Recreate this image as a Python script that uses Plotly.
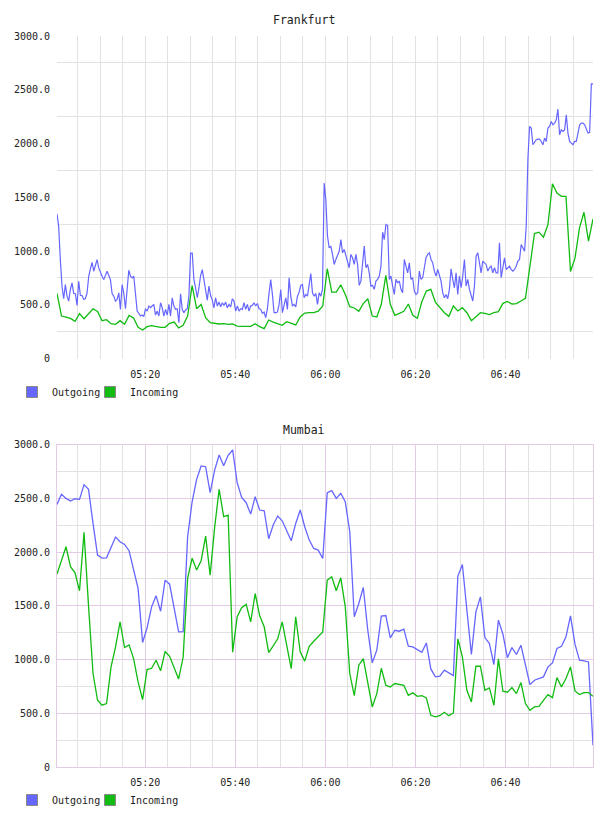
import plotly.graph_objects as go
import pandas as pd

# ---------------- data ----------------
series_names = ["Outgoing", "Incoming"]
chart_titles = ["Frankfurt", "Mumbai"]

x_tick_labels = ["05:20", "05:40", "06:00", "06:20", "06:40"]
x_tick_times = ["05:20:00", "05:40:00", "06:00:00", "06:20:00", "06:40:00"]
y_tick_vals = [0, 500, 1000, 1500, 2000, 2500, 3000]
y_tick_labels = ["0", "500.0", "1000.0", "1500.0", "2000.0", "2500.0", "3000.0"]

start_time = "2024-01-01 05:00:25"
n_minutes = 120

# Frankfurt outgoing (dense sampling)
fra_out = [
    1345, 1228, 920, 673, 556, 688, 580, 534, 642, 704,
    605, 602, 494, 719, 586, 586, 549, 558, 611, 765,
    833, 895, 812, 873, 920, 843, 796, 765, 734, 772,
    812, 772, 734, 605, 580, 534, 549, 611, 457, 688,
    605, 463, 642, 821, 765, 750, 765, 611, 441, 420,
    395, 404, 389, 463, 441, 488, 472, 488, 503, 404,
    441, 395, 519, 472, 395, 457, 404, 503, 395, 565,
    488, 457, 463, 333, 602, 457, 426, 451, 463, 580,
    981, 981, 734, 657, 565, 657, 772, 827, 734, 657,
    543, 673, 586, 543, 472, 565, 488, 525, 481, 519,
    494, 525, 472, 503, 481, 556, 534, 441, 488, 441,
    463, 457, 519, 457, 503, 441, 488, 494, 519, 488,
    512, 463, 457, 420, 432, 380, 463, 611, 734, 596,
    426, 426, 432, 503, 642, 426, 488, 565, 457, 750,
    580, 488, 503, 481, 580, 617, 679, 688, 565, 596,
    580, 673, 790, 611, 580, 605, 503, 611, 580, 642,
    1633, 1478, 1138, 1029, 1045, 968, 875, 921, 952, 998,
    1107, 983, 1014, 952, 890, 844, 968, 937, 875, 968,
    875, 680, 720, 921, 1045, 844, 875, 797, 674, 680,
    643, 720, 736, 767, 859, 1175, 1107, 1246, 1237, 736,
    767, 674, 596, 736, 705, 720, 643, 612, 921, 859,
    797, 890, 736, 751, 627, 596, 612, 813, 736, 751,
    859, 937, 968, 983, 921, 890, 813, 767, 828, 782,
    720, 612, 565, 596, 556, 643, 834, 736, 658, 797,
    596, 767, 658, 767, 921, 674, 736, 643, 581, 535,
    674, 952, 983, 890, 797, 906, 890, 875, 813, 844,
    859, 797, 844, 797, 797, 1076, 751, 828, 937, 828,
    844, 859, 828, 813, 828, 859, 906, 921, 1060, 1029,
    998, 1230, 1849, 2158, 2143, 1988, 2019, 2035, 2041, 2041,
    2019, 1988, 2050, 2019, 2143, 2158, 2205, 2174, 2189, 2220,
    2319, 2081, 2127, 2112, 2127, 2267, 2097, 2019, 2004, 1988,
    2019, 2019, 2097, 2174, 2189, 2189, 2174, 2127, 2097, 2103,
    2554, 2554,
]

# Frankfurt incoming (1-minute samples)
fra_in = [
    605, 395, 386, 373, 346, 417, 370, 417, 463, 438,
    352, 361, 324, 318, 352, 318, 401, 377, 290, 265,
    296, 306, 296, 290, 290, 327, 339, 284, 309, 395,
    679, 463, 503, 380, 333, 324, 321, 324, 318, 321,
    302, 299, 299, 299, 324, 296, 278, 358, 339, 324,
    309, 343, 327, 312, 386, 423, 426, 426, 441, 488,
    835, 618, 618, 686, 596, 482, 470, 439, 510, 556,
    395, 386, 504, 773, 504, 402, 420, 439, 507, 402,
    374, 528, 627, 643, 525, 473, 426, 392, 488, 442,
    473, 426, 352, 389, 426, 420, 408, 426, 436, 513,
    531, 507, 510, 535, 559, 859, 1162, 1175, 1128, 1246,
    1626, 1540, 1509, 1509, 810, 934, 1215, 1360, 1091, 1298,
]

# Mumbai outgoing (1-minute samples)
mum_out = [
    2444, 2538, 2500, 2475, 2497, 2491, 2628, 2584, 2267, 1972,
    1944, 1947, 2044, 2140, 2097, 2072, 2013, 1833, 1662, 1159,
    1295, 1491, 1593, 1450, 1739, 1702, 1491, 1258, 1261, 2143,
    2469, 2677, 2802, 2795, 2553, 2764, 2904, 2805, 2901, 2951,
    2646, 2510, 2460, 2354, 2516, 2392, 2385, 2125, 2252, 2336,
    2292, 2199, 2106, 2267, 2392, 2236, 2112, 2034, 2019, 1941,
    2553, 2572, 2500, 2547, 2469, 2190, 1398, 1522, 1671, 1273,
    969, 1087, 1404, 1410, 1202, 1273, 1264, 1283, 1124, 1118,
    1093, 1068, 1155, 913, 839, 845, 901, 876, 851, 1777,
    1885, 1460, 1047, 1444, 1584, 1205, 1149, 954, 1367, 1236,
    1016, 1112, 1047, 1134, 954, 767, 808, 823, 839, 932,
    969, 1103, 1124, 1211, 1407, 1143, 994, 988, 978, 202,
]

# Mumbai incoming (1-minute samples)
mum_in = [
    1795, 1932, 2050, 1864, 1808, 1640, 2184, 1500, 870, 621,
    575, 590, 932, 1118, 1351, 1112, 1137, 1009, 792, 627,
    907, 919, 994, 895, 1075, 1031, 926, 820, 1019, 1755,
    1944, 1833, 1920, 2149, 1786, 2230, 2584, 2330, 2345, 1068,
    1398, 1482, 1513, 1351, 1615, 1407, 1305, 1065, 1127, 1193,
    1351, 1149, 916, 1398, 1072, 985, 1124, 1171, 1211, 1258,
    1739, 1770, 1640, 1761, 1491, 870, 665, 947, 1009, 777,
    559, 683, 919, 761, 745, 777, 770, 761, 668, 690,
    658, 665, 643, 481, 466, 478, 509, 478, 503, 1193,
    1025, 714, 606, 938, 938, 714, 736, 575, 1006, 705,
    696, 739, 683, 786, 590, 528, 559, 565, 621, 674,
    646, 832, 745, 823, 932, 708, 674, 693, 693, 658,
]

# ---------------- styling ----------------
OUT_COLOR = "#6666ff"
IN_COLOR = "#11bb11"
GRID_GREY = "#e2e2e2"
GRID_LILAC = "#e3cbe6"
TXT = "#222222"
MONO = "DejaVu Sans Mono"

W, H = 608, 816
M_L, M_R, M_T, M_B = 57, 15, 36, 49
PLOT_W = W - M_L - M_R
PLOT_H = H - M_T - M_B

t0 = pd.Timestamp(start_time)
t_min = [t0 + pd.Timedelta(minutes=i) for i in range(n_minutes)]
span = pd.Timedelta(minutes=n_minutes - 1)
n_dense = len(fra_out)
t_dense = [t0 + span * (i / (n_dense - 1)) for i in range(n_dense)]
x_range = [t0, t0 + span]
day = t0.strftime("%Y-%m-%d")
tickvals_x = [f"{day} {s}" for s in x_tick_times]


def px_to_paper_y(py):
    return (H - M_B - py) / PLOT_H


def px_to_paper_x(px):
    return (px - M_L) / PLOT_W


fra_bottom = px_to_paper_y(358.5)
mum_top = px_to_paper_y(444.7)

fig = go.Figure()

# data traces
fig.add_trace(go.Scatter(x=t_dense, y=fra_out, mode="lines", line=dict(color=OUT_COLOR, width=1.2),
                         xaxis="x", yaxis="y", showlegend=False, hoverinfo="skip"))
fig.add_trace(go.Scatter(x=t_min, y=fra_in, mode="lines", line=dict(color=IN_COLOR, width=1.3),
                         xaxis="x", yaxis="y", showlegend=False, hoverinfo="skip"))
fig.add_trace(go.Scatter(x=t_min, y=mum_out, mode="lines", line=dict(color=OUT_COLOR, width=1.3),
                         xaxis="x2", yaxis="y2", showlegend=False, hoverinfo="skip"))
fig.add_trace(go.Scatter(x=t_min, y=mum_in, mode="lines", line=dict(color=IN_COLOR, width=1.3),
                         xaxis="x2", yaxis="y2", showlegend=False, hoverinfo="skip"))

# legend entries (square swatches) + an invisible spacer entry
for leg, xa, ya in [("legend", "x", "y"), ("legend2", "x2", "y2")]:
    for name, col in zip(series_names, [OUT_COLOR, IN_COLOR]):
        fig.add_trace(go.Scatter(x=[None], y=[None], mode="markers", name=name, legend=leg,
                                 xaxis=xa, yaxis=ya,
                                 marker=dict(symbol="square", size=11, color=col,
                                             line=dict(color="#888888", width=1))))
    fig.add_trace(go.Scatter(x=[None], y=[None], mode="markers", name=" ", legend=leg,
                             xaxis=xa, yaxis=ya,
                             marker=dict(symbol="square", size=1, color="rgba(0,0,0,0)",
                                         line=dict(width=0))))

tick_font = dict(family=MONO, size=10, color=TXT)


def xaxis_cfg(domain_anchor, major_grid, show_border):
    return dict(
        type="date", range=x_range, anchor=domain_anchor,
        tickmode="array", tickvals=tickvals_x, ticktext=x_tick_labels,
        ticks="outside", ticklen=6, tickcolor="rgba(0,0,0,0)",
        tickfont=tick_font, showgrid=True, gridcolor=major_grid, gridwidth=1,
        minor=dict(dtick=300000, tick0=f"{day} 05:00:00", showgrid=True,
                   gridcolor=GRID_GREY, gridwidth=1, ticks=""),
        zeroline=False, showline=show_border, mirror=show_border,
        linecolor=GRID_LILAC, linewidth=1, fixedrange=True,
    )


def yaxis_cfg(domain, domain_anchor, major_grid, show_major, show_border):
    return dict(
        domain=domain, anchor=domain_anchor, range=[0, 3000],
        tickmode="array", tickvals=y_tick_vals, ticktext=y_tick_labels,
        ticks="outside", ticklen=4, tickcolor="rgba(0,0,0,0)",
        tickfont=tick_font, showgrid=show_major, gridcolor=major_grid, gridwidth=1,
        minor=dict(tick0=250, dtick=500, showgrid=True, gridcolor=GRID_GREY,
                   gridwidth=1, ticks=""),
        zeroline=False, showline=show_border, mirror=show_border,
        linecolor=GRID_LILAC, linewidth=1, fixedrange=True,
    )


legend_common = dict(orientation="h", xref="paper", yref="paper",
                     xanchor="left", yanchor="middle", bgcolor="rgba(0,0,0,0)",
                     font=dict(family=MONO, size=10, color=TXT),
                     itemclick=False, itemdoubleclick=False, entrywidth=33,
                     tracegroupgap=0, borderwidth=0)

fig.update_layout(
    width=W, height=H,
    margin=dict(l=M_L, r=M_R, t=M_T, b=M_B, pad=0, autoexpand=False),
    paper_bgcolor="white", plot_bgcolor="white",
    xaxis=xaxis_cfg("y", GRID_GREY, False),
    yaxis=yaxis_cfg([fra_bottom, 1], "x", GRID_GREY, False, False),
    xaxis2=xaxis_cfg("y2", GRID_LILAC, True),
    yaxis2=yaxis_cfg([0, mum_top], "x2", GRID_LILAC, True, True),
    legend=dict(x=px_to_paper_x(12), y=px_to_paper_y(392), **legend_common),
    legend2=dict(x=px_to_paper_x(12), y=px_to_paper_y(800), **legend_common),
    hovermode=False,
    annotations=[
        dict(text=chart_titles[0], xref="paper", yref="paper",
             x=px_to_paper_x(304), y=px_to_paper_y(20),
             xanchor="center", yanchor="middle", showarrow=False,
             font=dict(family=MONO, size=11.5, color=TXT)),
        dict(text=chart_titles[1], xref="paper", yref="paper",
             x=px_to_paper_x(304), y=px_to_paper_y(430),
             xanchor="center", yanchor="middle", showarrow=False,
             font=dict(family=MONO, size=11.5, color=TXT)),
    ],
)

fig.write_html("out.html", config={"displayModeBar": False})
